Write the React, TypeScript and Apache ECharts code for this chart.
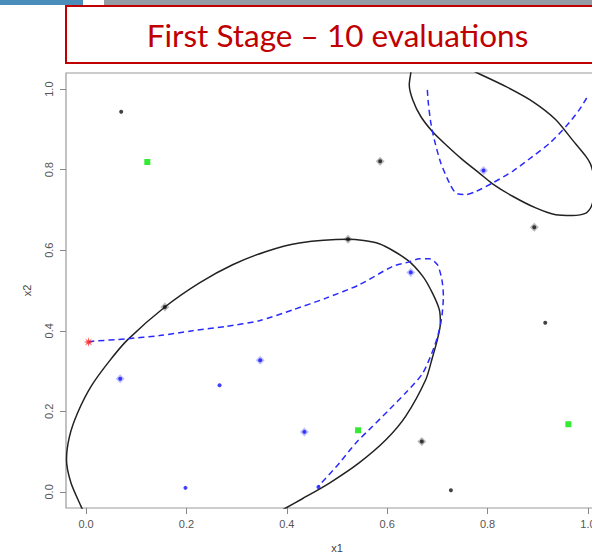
import React, { useEffect, useRef } from "react";
import * as echarts from "echarts";

const xTicks = [0, 0.2, 0.4, 0.6, 0.8, 1.0];
const yTicks = [0, 0.2, 0.4, 0.6, 0.8, 1.0];

const blackDots = [[0.070, 0.944], [0.727, 0.004], [0.915, 0.420]];
const blackHalo = [[0.586, 0.821], [0.522, 0.627], [0.157, 0.459], [0.669, 0.125], [0.893, 0.657]];
const blueDots = [[0.266, 0.265], [0.198, 0.010], [0.463, 0.012]];
const blueHalo = [[0.068, 0.281], [0.347, 0.327], [0.435, 0.149], [0.647, 0.545], [0.792, 0.798]];
const greenSquares = [[0.122, 0.819], [0.542, 0.153], [0.961, 0.168]];
const redStar = [[0.005, 0.372]];

const lowerEllipse = [
  [-0.005, -0.049], [-0.010, -0.036], [-0.030, 0.022], [-0.039, 0.080], [-0.033, 0.138],
  [-0.017, 0.196], [0.010, 0.262], [0.046, 0.324], [0.083, 0.378], [0.157, 0.459],
  [0.226, 0.519], [0.292, 0.564], [0.359, 0.597], [0.425, 0.618], [0.522, 0.627],
  [0.584, 0.616], [0.640, 0.576], [0.671, 0.535], [0.690, 0.494], [0.704, 0.452],
  [0.706, 0.419], [0.700, 0.378], [0.690, 0.333], [0.677, 0.279], [0.637, 0.188],
  [0.598, 0.130], [0.544, 0.072], [0.485, 0.022], [0.431, -0.017], [0.398, -0.040],
  [0.385, -0.049],
];

const upperEllipse = [
  [0.648, 1.056], [0.647, 1.040], [0.644, 1.011], [0.651, 0.973], [0.667, 0.932],
  [0.690, 0.895], [0.717, 0.862], [0.750, 0.825], [0.783, 0.792], [0.810, 0.765],
  [0.850, 0.734], [0.896, 0.705], [0.936, 0.688], [0.969, 0.686], [0.996, 0.692],
  [1.007, 0.709], [1.015, 0.755], [1.007, 0.808], [0.996, 0.833], [0.969, 0.874],
  [0.936, 0.924], [0.890, 0.969], [0.837, 1.006], [0.780, 1.040], [0.764, 1.050],
];

const lowerDashed = [
  [0.005, 0.372], [0.013, 0.374], [0.080, 0.380], [0.146, 0.388], [0.212, 0.400],
  [0.279, 0.411], [0.345, 0.425], [0.412, 0.452], [0.478, 0.481], [0.544, 0.514],
  [0.611, 0.560], [0.644, 0.571], [0.664, 0.579], [0.684, 0.579], [0.700, 0.564],
  [0.709, 0.527], [0.712, 0.485], [0.709, 0.436], [0.704, 0.403], [0.694, 0.361],
  [0.671, 0.295], [0.637, 0.246], [0.604, 0.204], [0.571, 0.163], [0.538, 0.122],
  [0.505, 0.072], [0.463, 0.014],
];

const upperDashed = [
  [0.680, 0.998], [0.682, 0.965], [0.687, 0.916], [0.694, 0.874], [0.707, 0.816],
  [0.724, 0.767], [0.737, 0.742], [0.757, 0.738], [0.777, 0.746], [0.810, 0.767],
  [0.850, 0.796], [0.890, 0.833], [0.924, 0.866], [0.956, 0.907], [0.983, 0.949],
  [1.0, 0.983],
];

const titleText = "First Stage \u2013 10 evaluations";

const STAR =
  "path://M10 5 L6.66 5.69 L8.54 8.54 L5.69 6.66 L5 10 L4.31 6.66 L1.46 8.54 L3.34 5.69 L0 5 L3.34 4.31 L1.46 1.46 L4.31 3.34 L5 0 L5.69 3.34 L8.54 1.46 L6.66 4.31 Z";

export default function App() {
  const ref = useRef<HTMLDivElement>(null);
  useEffect(() => {
    if (!ref.current) return;
    const chart = echarts.init(ref.current, null, { renderer: "svg" });
    const labelStyle = { color: "#555", fontSize: 11, fontFamily: "Liberation Sans" };
    const lineSeries = (data: number[][], color: string, dashed: boolean) => ({
      type: "line",
      data,
      showSymbol: false,
      symbol: "none",
      smooth: 0.25,
      clip: true,
      silent: true,
      z: 2,
      lineStyle: { color, width: 1.5, type: dashed ? [6, 4] : "solid" },
    });
    chart.setOption({
      animation: false,
      backgroundColor: "#fff",
      graphic: [
        { type: "rect", shape: { x: 0, y: 0, width: 83, height: 5 }, style: { fill: "#4a8dbb" } },
        { type: "rect", shape: { x: 104, y: 0, width: 520, height: 5 }, style: { fill: "#959ca6" } },
        {
          type: "rect",
          shape: { x: 66, y: 6, width: 560, height: 57 },
          style: { fill: "#fff", stroke: "#c00000", lineWidth: 2 },
        },
        {
          type: "text",
          x: 337.5,
          y: 35,
          style: {
            text: titleText,
            fill: "#c00000",
            font: "31.5px Lato",
            textAlign: "center",
            textVerticalAlign: "middle",
          },
        },
      ],
      grid: {
        left: 66,
        top: 73,
        width: 542,
        height: 435,
        show: true,
        borderColor: "#999",
        borderWidth: 1.2,
        backgroundColor: "#fff",
        containLabel: false,
        outerBoundsMode: "none",
      },
      xAxis: {
        type: "value",
        min: -0.04,
        max: 1.04,
        name: "x1",
        nameLocation: "middle",
        nameGap: 34,
        nameTextStyle: { ...labelStyle, color: "#444" },
        splitLine: { show: false },
        axisLine: { show: false, onZero: false },
        axisTick: { show: true, length: 6, customValues: xTicks, lineStyle: { color: "#888" } },
        axisLabel: {
          ...labelStyle,
          margin: 10,
          customValues: xTicks,
          formatter: (v: number) => v.toFixed(1),
        },
      },
      yAxis: {
        type: "value",
        min: -0.04,
        max: 1.04,
        name: "x2",
        nameLocation: "middle",
        nameGap: 34,
        nameRotate: 90,
        nameTextStyle: { ...labelStyle, color: "#444" },
        splitLine: { show: false },
        axisLine: { show: false, onZero: false },
        axisTick: { show: true, length: 6, customValues: yTicks, lineStyle: { color: "#888" } },
        axisLabel: {
          ...labelStyle,
          rotate: 90,
          margin: 12,
          customValues: yTicks,
          formatter: (v: number) => v.toFixed(1),
        },
      },
      series: [
        lineSeries(lowerEllipse, "#222", false),
        lineSeries(upperEllipse, "#222", false),
        lineSeries(lowerDashed, "#2a2aff", true),
        lineSeries(upperDashed, "#2a2aff", true),
        {
          type: "scatter", data: blackHalo, symbol: "diamond", symbolSize: 9, z: 3,
          itemStyle: { color: "rgba(60,60,60,0.45)" },
        },
        {
          type: "scatter", data: blackHalo, symbol: "circle", symbolSize: 4, z: 4,
          itemStyle: { color: "#111" },
        },
        {
          type: "scatter", data: blackDots, symbol: "circle", symbolSize: 4, z: 4,
          itemStyle: { color: "#111" },
        },
        {
          type: "scatter", data: blueHalo, symbol: "diamond", symbolSize: 9, z: 3,
          itemStyle: { color: "rgba(80,80,255,0.45)" },
        },
        {
          type: "scatter", data: blueHalo, symbol: "circle", symbolSize: 4, z: 4,
          itemStyle: { color: "#1010ff" },
        },
        {
          type: "scatter", data: blueDots, symbol: "circle", symbolSize: 4, z: 4,
          itemStyle: { color: "#1010ff" },
        },
        {
          type: "scatter", data: greenSquares, symbol: "rect", symbolSize: 6, z: 4,
          itemStyle: { color: "#00e600" },
        },
        {
          type: "scatter", data: redStar, symbol: STAR, symbolSize: 10, z: 5,
          itemStyle: { color: "#ff1a1a" },
        },
      ],
    });
    return () => chart.dispose();
  }, []);
  return (
    <div
      ref={ref}
      style={{ position: "fixed", left: 0, top: 0, width: 640, height: 557, background: "#fff" }}
    />
  );
}
